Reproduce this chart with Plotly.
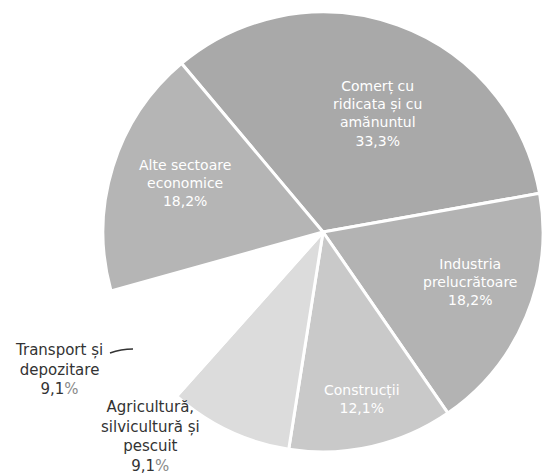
import plotly.graph_objects as go

# sectoare, in ordinea acelor de ceasornic, incepand cu comertul
sectors = [
    "Comerț cu ridicata și cu amănuntul",
    "Industria prelucrătoare",
    "Construcții",
    "Agricultură, silvicultură și pescuit",
    "Transport și depozitare",
    "Alte sectoare economice",
]
shares = [33.3, 18.2, 12.1, 9.1, 9.1, 18.2]
label_lines = [
    ["Comerț cu", "ridicata și cu", "amănuntul"],
    ["Industria", "prelucrătoare"],
    ["Construcții"],
    ["Agricultură,", "silvicultură și", "pescuit"],
    ["Transport și", "depozitare"],
    ["Alte sectoare", "economice"],
]
slice_colors = ["#a9a9a9", "#b3b3b3", "#c9c9c9", "#dcdcdc", "#ffffff", "#b5b5b5"]

W, H = 544, 476
FONT = "DejaVu Sans"

fig = go.Figure(go.Pie(
    labels=sectors,
    values=shares,
    sort=False,
    direction="clockwise",
    rotation=-40,
    marker=dict(colors=slice_colors, line=dict(color="white", width=3)),
    textinfo="none",
    hoverinfo="label+percent",
    showlegend=False,
    domain=dict(x=[103 / W, 543 / W], y=[1 - 452 / H, 1 - 12 / H]),
))

def pct(v):
    return f"{v:.1f}".replace(".", ",")

# pozitiile etichetelor (px in imagine)
inside_pos = {0: (377, 113), 1: (470, 282), 2: (362, 399), 5: (185, 183)}
outside_pos = {4: (59, 369), 3: (150, 436)}

annotations = []
for i, (x, y) in inside_pos.items():
    txt = "<br>".join(label_lines[i] + [pct(shares[i]) + "%"])
    annotations.append(dict(
        x=x / W, y=1 - y / H, xref="paper", yref="paper", text=txt,
        showarrow=False, align="center", xanchor="center", yanchor="middle",
        font=dict(family=FONT, size=14, color="white"),
    ))
for i, (x, y) in outside_pos.items():
    txt = "<br>".join(label_lines[i] + [pct(shares[i]) + '<span style="color:#8a8a8a">%</span>'])
    annotations.append(dict(
        x=x / W, y=1 - y / H, xref="paper", yref="paper", text=txt,
        showarrow=False, align="center", xanchor="center", yanchor="middle",
        font=dict(family=FONT, size=15, color="#333333"),
    ))

fig.update_layout(
    width=W, height=H,
    margin=dict(l=0, r=0, t=0, b=0),
    paper_bgcolor="white",
    plot_bgcolor="white",
    annotations=annotations,
    shapes=[dict(
        type="path", xref="paper", yref="paper",
        path=f"M {110/W} {1-353/H} Q {121/W} {1-349/H} {133/W} {1-349/H}",
        line=dict(color="#333333", width=1.5),
    )],
)

fig.write_html(
    "out.html",
    config={"displayModeBar": False},
    post_script="document.body.style.margin='0';",
)
